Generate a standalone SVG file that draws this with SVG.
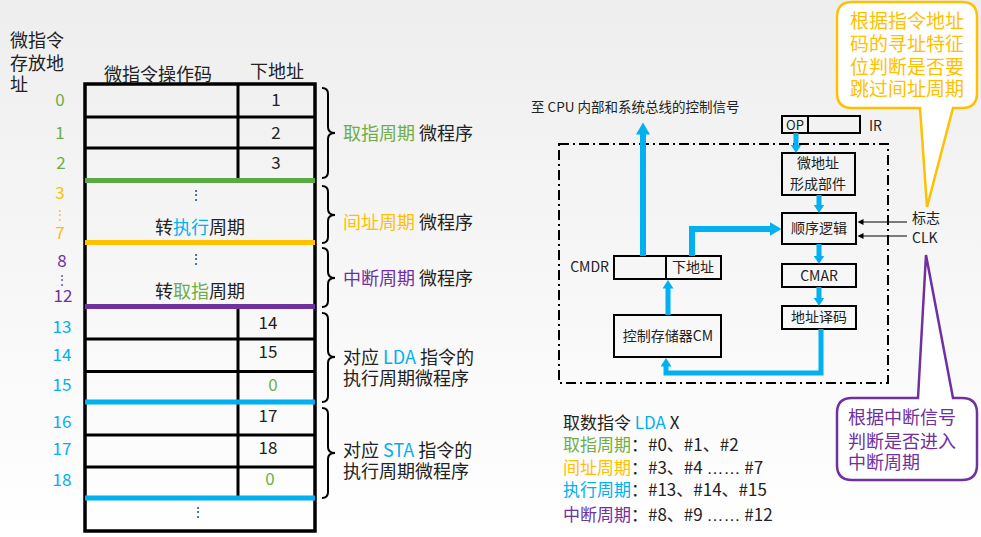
<svg xmlns="http://www.w3.org/2000/svg" width="981" height="537" viewBox="0 0 981 537">
<defs>
<linearGradient id="bg" x1="0" y1="0" x2="0" y2="1">
<stop offset="0" stop-color="#eeeeee"/>
<stop offset="1" stop-color="#ffffff"/>
</linearGradient>
<marker id="big" markerUnits="userSpaceOnUse" markerWidth="13" markerHeight="14" refX="0.5" refY="7" orient="auto"><path d="M0,0 L12,7 L0,14 z" fill="#00B0F0"/></marker>
<marker id="sm" markerUnits="userSpaceOnUse" markerWidth="9" markerHeight="11" refX="0.5" refY="5.5" orient="auto"><path d="M0,0 L8.5,5.5 L0,11 z" fill="#00B0F0"/></marker>
<marker id="blk" markerUnits="userSpaceOnUse" markerWidth="7" markerHeight="6" refX="0.5" refY="3" orient="auto"><path d="M0,0 L6,3 L0,6 z" fill="#000"/></marker>
<style>
text{font-family:"Noto Sans CJK SC","Liberation Sans",sans-serif;fill:#222}
.t18{font-size:18px}
.t17{font-size:17px}
.t14{font-size:14px}
.dots{font-size:12px}
.c{text-anchor:middle}
.e{font-family:"Liberation Sans",sans-serif}
.g{fill:#70AD47}.y{fill:#FFC000}.p{fill:#7030A0}.b{fill:#00B0F0}
.bl{stroke:#000;stroke-width:3;fill:none}
.brace{stroke:#000;stroke-width:2;fill:none}
.box{stroke:#000;stroke-width:2;fill:none}
.flow{stroke:#00B0F0;fill:none;stroke-linejoin:miter}
</style>
</defs>
<rect x="0" y="0" width="981" height="537" fill="url(#bg)"/>

<g id="header">
<text class="t18" x="10" y="47">微指令</text>
<text class="t18" x="10" y="70">存放地</text>
<text class="t18" x="10" y="91">址</text>
<text class="t18" x="104" y="81">微指令操作码</text>
<text class="t18" x="250" y="78">下地址</text>
</g>

<g id="addresses" class="t17">
<text class="c g" x="60" y="106">0</text>
<text class="c g" x="60" y="139">1</text>
<text class="c g" x="61" y="169">2</text>
<text class="c y" x="60" y="199">3</text>
<text class="c y dots" x="60" y="219">⋮</text>
<text class="c y" x="60" y="239">7</text>
<text class="c p" x="62" y="267">8</text>
<text class="c p dots" x="62" y="284">⋮</text>
<text class="c p" x="63" y="302">12</text>
<text class="c b" x="62" y="333">13</text>
<text class="c b" x="62" y="361">14</text>
<text class="c b" x="62" y="391">15</text>
<text class="c b" x="62" y="428">16</text>
<text class="c b" x="62" y="455">17</text>
<text class="c b" x="62" y="486">18</text>
</g>

<g id="table">
<rect x="85" y="84" width="230" height="447" fill="none" stroke="#000" stroke-width="3.5"/>
<line class="bl" x1="238" y1="84" x2="238" y2="180"/>
<line class="bl" x1="238" y1="306" x2="238" y2="498"/>
<line class="bl" x1="85" y1="117" x2="315" y2="117"/>
<line class="bl" x1="85" y1="148" x2="315" y2="148"/>
<line class="bl" x1="85" y1="339" x2="315" y2="339"/>
<line class="bl" x1="85" y1="371.5" x2="315" y2="371.5"/>
<line class="bl" x1="85" y1="435" x2="315" y2="435"/>
<line class="bl" x1="85" y1="467" x2="315" y2="467"/>
<line x1="85" y1="180.5" x2="315" y2="180.5" stroke="#5BA945" stroke-width="5"/>
<line x1="85" y1="242.5" x2="315" y2="242.5" stroke="#FFC000" stroke-width="5"/>
<line x1="85" y1="306.5" x2="315" y2="306.5" stroke="#7030A0" stroke-width="5"/>
<line x1="85" y1="402" x2="315" y2="402" stroke="#00B0F0" stroke-width="5"/>
<line x1="85" y1="498" x2="315" y2="498" stroke="#00B0F0" stroke-width="5"/>
<g class="t17">
<text class="c" x="276" y="106">1</text>
<text class="c" x="276" y="139">2</text>
<text class="c" x="276" y="169">3</text>
<text class="c" x="268" y="329">14</text>
<text class="c" x="268" y="358">15</text>
<text class="c g" x="273" y="391">0</text>
<text class="c" x="268" y="422">17</text>
<text class="c" x="268" y="454">18</text>
<text class="c g" x="270" y="485">0</text>
</g>
<text class="c dots" x="196" y="199">⋮</text>
<text class="c dots" x="196" y="263">⋮</text>
<text class="c dots" x="198" y="516">⋮</text>
<text class="t18 c" x="200" y="234">转<tspan class="b">执行</tspan>周期</text>
<text class="t18 c" x="200" y="298">转<tspan class="g">取指</tspan>周期</text>
</g>

<g id="braces">
<path class="brace" d="M322,88 Q328,88 328,94 L328,127 Q328,133 335,133 Q328,133 328,139 L328,172 Q328,178 322,178"/>
<path class="brace" d="M322,186 Q328,186 328,192 L328,209 Q328,215 335,215 Q328,215 328,221 L328,237 Q328,243 322,243"/>
<path class="brace" d="M322,248 Q328,248 328,254 L328,272 Q328,278 335,278 Q328,278 328,284 L328,301 Q328,307 322,307"/>
<path class="brace" d="M322,313 Q328,313 328,319 L328,351 Q328,357 335,357 Q328,357 328,363 L328,396 Q328,402 322,402"/>
<path class="brace" d="M322,408 Q328,408 328,414 L328,447 Q328,453 335,453 Q328,453 328,459 L328,492 Q328,498 322,498"/>
</g>

<g id="brace-labels" class="t18">
<text x="343" y="140"><tspan class="g">取指周期</tspan> 微程序</text>
<text x="343" y="229"><tspan class="y">间址周期</tspan> 微程序</text>
<text x="343" y="285"><tspan class="p">中断周期</tspan> 微程序</text>
<text x="343" y="364">对应 <tspan class="b">LDA</tspan> 指令的</text>
<text x="343" y="385">执行周期微程序</text>
<text x="343" y="457">对应 <tspan class="b">STA</tspan> 指令的</text>
<text x="343" y="478">执行周期微程序</text>
</g>

<g id="signal-label"><text x="531" y="112" style="font-size:13.5px">至 CPU 内部和系统总线的控制信号</text></g>

<rect id="cu-boundary" x="559" y="144" width="329" height="239" fill="none" stroke="#000" stroke-width="2" stroke-dasharray="10,4,2,4"/>

<g id="ir">
<rect class="box" x="782" y="116" width="78" height="17"/>
<line class="box" x1="808" y1="116" x2="808" y2="133"/>
<text x="795" y="130" class="c" style="font-size:13px">OP</text>
<text class="t14" x="869" y="131">IR</text>
</g>
<g id="uaddr-gen">
<rect class="box" x="782" y="153" width="73" height="42"/>
<text class="t14 c" x="818" y="168">微地址</text>
<text class="t14 c" x="818" y="189">形成部件</text>
</g>
<g id="seq-logic">
<rect class="box" x="782" y="213" width="74" height="31"/>
<text class="t14 c" x="819" y="233">顺序逻辑</text>
</g>
<g id="cmar">
<rect class="box" x="782" y="264" width="74" height="23"/>
<text class="t14 c" x="819" y="281">CMAR</text>
</g>
<g id="decoder">
<rect class="box" x="782" y="306" width="74" height="23"/>
<text class="t14 c" x="819" y="322">地址译码</text>
</g>
<g id="cm">
<rect class="box" x="614" y="315" width="107" height="42"/>
<text class="t14 c" x="668" y="341">控制存储器CM</text>
</g>
<g id="cmdr">
<rect class="box" x="614" y="256" width="107" height="23"/>
<line class="box" x1="666" y1="256" x2="666" y2="279"/>
<text class="t14 c" x="693" y="272">下地址</text>
<text class="t14" x="609" y="272" text-anchor="end">CMDR</text>
</g>
<g id="inputs">
<text class="t14" x="912" y="223">标志</text>
<text class="t14" x="912" y="243">CLK</text>
</g>

<g id="connectors">
<path class="flow" stroke-width="6" d="M643,256 V134" marker-end="url(#big)"/>
<path class="flow" stroke-width="5" d="M796,133 V145" marker-end="url(#sm)"/>
<path class="flow" stroke-width="5" d="M819,195 V205" marker-end="url(#sm)"/>
<path class="flow" stroke-width="5" d="M819,244 V256" marker-end="url(#sm)"/>
<path class="flow" stroke-width="5" d="M819,287 V298" marker-end="url(#sm)"/>
<path class="flow" stroke-width="5" d="M821,329 V373 H666 V366" marker-end="url(#sm)"/>
<path class="flow" stroke-width="5" d="M668,315 V288" marker-end="url(#sm)"/>
<path class="flow" stroke-width="6" d="M692,256 V229 H770" marker-end="url(#big)"/>
<path d="M907,222 H863" stroke="#000" stroke-width="1" marker-end="url(#blk)"/>
<path d="M907,236 H863" stroke="#000" stroke-width="1" marker-end="url(#blk)"/>
</g>

<g id="callout-indirect">
<path d="M852,2 H962 Q977,2 977,17 V93 Q977,108 962,108 H953 L927,207 L920,108 H852 Q837,108 837,93 V17 Q837,2 852,2 Z" fill="#fff" stroke="#FFC000" stroke-width="2.5"/>
<g style="font-size:19px">
<text class="y" x="850" y="28">根据指令地址</text>
<text class="y" x="850" y="51">码的寻址特征</text>
<text class="y" x="850" y="74">位判断是否要</text>
<text class="y" x="850" y="96">跳过间址周期</text>
</g>
</g>

<g id="callout-interrupt">
<path d="M852,398 H918 L926,255 L953,398 H962 Q977,398 977,413 V465 Q977,480 962,480 H852 Q837,480 837,465 V413 Q837,398 852,398 Z" fill="#fff" stroke="#7030A0" stroke-width="2.5"/>
<text class="t18 p" x="848" y="424">根据中断信号</text>
<text class="t18 p" x="848" y="448">判断是否进入</text>
<text class="t18 p" x="848" y="469">中断周期</text>
</g>

<g id="summary" class="t17">
<text x="563" y="429">取数指令 <tspan class="b">LDA</tspan> X</text>
<text x="563" y="451"><tspan class="g">取指周期</tspan>：#0、#1、#2</text>
<text x="563" y="474"><tspan class="y">间址周期</tspan>：#3、#4 <tspan class="e">……</tspan> #7</text>
<text x="563" y="496"><tspan class="b">执行周期</tspan>：#13、#14、#15</text>
<text x="563" y="521"><tspan class="p">中断周期</tspan>：#8、#9 <tspan class="e">……</tspan> #12</text>
</g>
</svg>
